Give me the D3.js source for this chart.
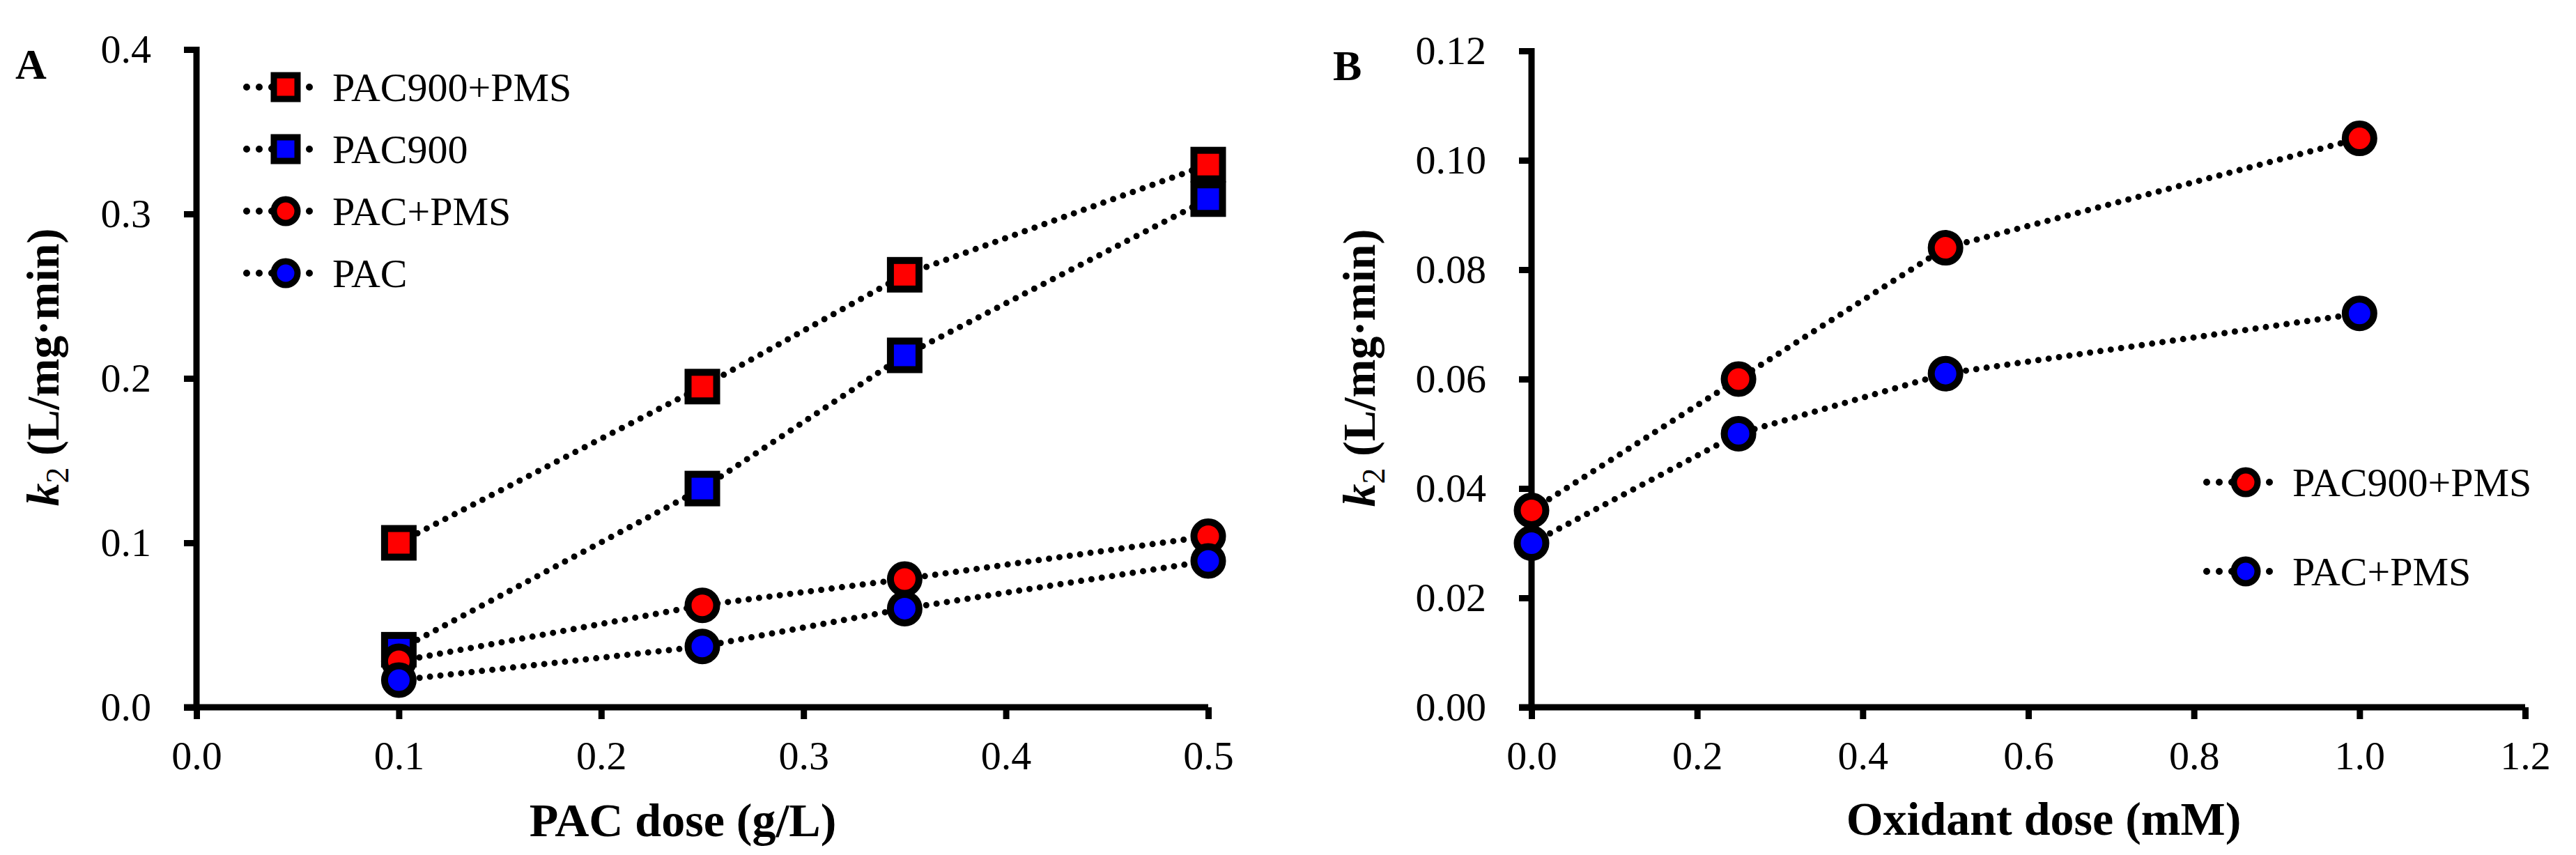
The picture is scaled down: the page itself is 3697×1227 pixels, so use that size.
<!DOCTYPE html>
<html>
<head>
<meta charset="utf-8">
<script src="https://cdn.jsdelivr.net/npm/d3@7"></script>
<style>
  body { margin: 0; background: #fff; }
  svg { display: block; font-family: "Liberation Serif", "Times New Roman", serif; }
</style>
</head>
<body>
<svg id="chart" width="3697" height="1227"></svg>
<script>
// panel A data: PAC dose (g/L) vs k2
const pacDose = [0.1, 0.25, 0.35, 0.5];
const pac900PmsA = [0.100, 0.195, 0.263, 0.330];
const pac900A = [0.035, 0.133, 0.214, 0.309];
const pacPmsA = [0.028, 0.062, 0.078, 0.104];
const pacA = [0.0165, 0.037, 0.060, 0.089];

// panel B data: oxidant dose (mM) vs k2
const oxDose = [0, 0.25, 0.5, 1.0];
const pac900PmsB = [0.036, 0.060, 0.084, 0.104];
const pacPmsB = [0.030, 0.050, 0.061, 0.072];

const ticksAx = [0, 0.1, 0.2, 0.3, 0.4, 0.5];
const ticksAy = [0, 0.1, 0.2, 0.3, 0.4];
const ticksBx = [0, 0.2, 0.4, 0.6, 0.8, 1.0, 1.2];
const ticksBy = [0, 0.02, 0.04, 0.06, 0.08, 0.10, 0.12];

const svg = d3.select("#chart");
svg.append("rect").attr("width", 3697).attr("height", 1227).attr("fill", "#fff");

const xA = d3.scaleLinear().domain([0, 0.5]).range([282, 1734]);
const yA = d3.scaleLinear().domain([0, 0.4]).range([1015, 71]);
const xB = d3.scaleLinear().domain([0, 1.2]).range([2198, 3624]);
const yB = d3.scaleLinear().domain([0, 0.12]).range([1015, 73]);

function drawAxes(x, y, xt, yt, xf, yf) {
  const gx = svg.append("g")
    .attr("transform", "translate(0," + y.range()[0] + ")")
    .call(d3.axisBottom(x).tickValues(xt).tickFormat(d3.format(xf))
      .tickSizeInner(17).tickSizeOuter(0).tickPadding(31));
  const gy = svg.append("g")
    .attr("transform", "translate(" + x.range()[0] + ",0)")
    .call(d3.axisLeft(y).tickValues(yt).tickFormat(d3.format(yf))
      .tickSizeInner(18).tickSizeOuter(0).tickPadding(47));
  [gx, gy].forEach(g => {
    g.select(".domain").attr("stroke", "#000").attr("stroke-width", 9);
    g.selectAll(".tick line").attr("stroke", "#000").attr("stroke-width", 9);
    g.selectAll(".tick text").attr("fill", "#000")
      .style("font-size", "58px").style("font-family", "Liberation Serif");
  });
  // extend x axis line to cover the y-axis corner
  gx.select(".domain").attr("d", "M" + (x.range()[0] - 18) + ",0H" + x.range()[1]);
  gy.select(".domain").attr("d", "M0," + y.range()[0] + "V" + (y.range()[1] - 4));
}

drawAxes(xA, yA, ticksAx, ticksAy, ".1f", ".1f");
drawAxes(xB, yB, ticksBx, ticksBy, ".1f", ".2f");

function drawSeries(x, y, xs, ys, shape, fill) {
  const pts = xs.map((d, i) => [x(d), y(ys[i])]);
  svg.append("path")
    .attr("d", d3.line()(pts))
    .attr("fill", "none")
    .attr("stroke", "#000")
    .attr("stroke-width", 9)
    .attr("stroke-linecap", "round")
    .attr("stroke-dasharray", "0 15");
  pts.forEach(p => drawMarker(p[0], p[1], shape, fill, 20.5, 10));
}

function drawMarker(cx, cy, shape, fill, r, sw) {
  if (shape === "square") {
    svg.append("rect")
      .attr("x", cx - r).attr("y", cy - r)
      .attr("width", 2 * r).attr("height", 2 * r)
      .attr("fill", fill).attr("stroke", "#000").attr("stroke-width", sw);
  } else {
    svg.append("circle")
      .attr("cx", cx).attr("cy", cy).attr("r", r)
      .attr("fill", fill).attr("stroke", "#000").attr("stroke-width", sw);
  }
}

const red = "#ff0000", blue = "#0000ff";

drawSeries(xA, yA, pacDose, pac900PmsA, "square", red);
drawSeries(xA, yA, pacDose, pac900A, "square", blue);
drawSeries(xA, yA, pacDose, pacPmsA, "circle", red);
drawSeries(xA, yA, pacDose, pacA, "circle", blue);

drawSeries(xB, yB, oxDose, pac900PmsB, "circle", red);
drawSeries(xB, yB, oxDose, pacPmsB, "circle", blue);

function legend(items, x0, y0, step) {
  items.forEach((it, i) => {
    const cy = y0 + i * step;
    svg.append("line")
      .attr("x1", x0 - 56).attr("x2", x0 + 52)
      .attr("y1", cy).attr("y2", cy)
      .attr("stroke", "#000").attr("stroke-width", 10)
      .attr("stroke-linecap", "round").attr("stroke-dasharray", "0 18");
    drawMarker(x0, cy, it.shape, it.fill, 17, 9);
    svg.append("text")
      .attr("x", x0 + 67).attr("y", cy + 20)
      .style("font-size", "58px")
      .text(it.name);
  });
}

legend([
  { name: "PAC900+PMS", shape: "square", fill: red },
  { name: "PAC900", shape: "square", fill: blue },
  { name: "PAC+PMS", shape: "circle", fill: red },
  { name: "PAC", shape: "circle", fill: blue }
], 410, 125, 89);

legend([
  { name: "PAC900+PMS", shape: "circle", fill: red },
  { name: "PAC+PMS", shape: "circle", fill: blue }
], 3223, 692, 128);

// axis titles
svg.append("text").attr("x", 980).attr("y", 1200)
  .attr("text-anchor", "middle").style("font-size", "68px").style("font-weight", "bold")
  .text("PAC dose (g/L)");
svg.append("text").attr("x", 2933).attr("y", 1198)
  .attr("text-anchor", "middle").style("font-size", "68px").style("font-weight", "bold")
  .text("Oxidant dose (mM)");

function yTitle(x, y) {
  const t = svg.append("text")
    .attr("transform", "translate(" + x + "," + y + ") rotate(-90)")
    .attr("text-anchor", "middle")
    .style("font-size", "66px").style("font-weight", "bold");
  t.append("tspan").style("font-style", "italic").text("k");
  t.append("tspan").attr("dy", 14).style("font-size", "46px").style("font-weight", "normal").text("2");
  t.append("tspan").attr("dy", -14).text(" (L/mg\u00b7min)");
}
yTitle(84, 527);
yTitle(1973, 528);

// panel letters
svg.append("text").attr("x", 22).attr("y", 113)
  .style("font-size", "62px").style("font-weight", "bold").text("A");
svg.append("text").attr("x", 1913).attr("y", 115)
  .style("font-size", "62px").style("font-weight", "bold").text("B");
</script>
</body>
</html>
